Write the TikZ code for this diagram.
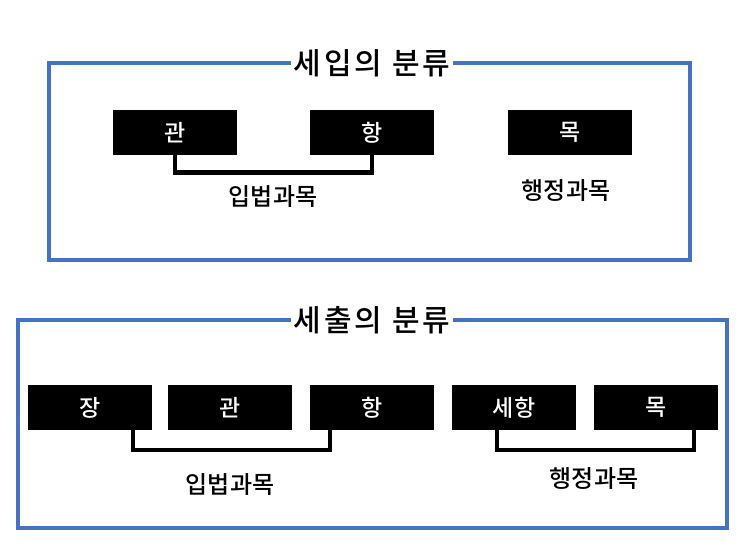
\documentclass[tikz,border=0pt]{standalone}
\usepackage{fontspec}
\newfontfamily\kr[UprightFont=* Medium]{Noto Sans CJK KR}
\newfontfamily\krwide[UprightFont=* Medium,LetterSpace=10]{Noto Sans CJK KR}
\definecolor{frameblue}{RGB}{70,114,196}
\tikzset{
  frame/.style={draw=frameblue, line width=3.5pt},
  titlebox/.style={fill=white, inner xsep=3pt, inner ysep=0pt, font=\krwide\fontsize{30}{32}\selectfont},
  tagbox/.style={fill=black, text=white, minimum width=124pt, minimum height=45pt, inner sep=0pt, font=\kr\fontsize{23}{25}\selectfont},
  brk/.style={draw=black, line width=4.5pt, line join=miter},
  lbl/.style={inner sep=0pt, font=\kr\fontsize{24}{26}\selectfont}
}
\begin{document}
\begin{tikzpicture}[x=1pt,y=-1pt]
\useasboundingbox (0,0) rectangle (743,557);
% top frame
\draw[frame] (49,63) rectangle (690,260);
\node[titlebox] (t1) at (372,63) {세입의 분류};
\node[tagbox] (a1) at (175,132.5) {관};
\node[tagbox] (a2) at (372,132.5) {항};
\node[tagbox] (a3) at (570,132.5) {목};
\draw[brk] (a1.south) -- ++(0,17.5) -| (a2.south);
\node[lbl] (l1) at (273,197) {입법과목};
\node[lbl] (l2) at (566,191) {행정과목};
% bottom frame
\draw[frame] (18,320) rectangle (727,528);
\node[titlebox] (t2) at (372,320) {세출의 분류};
\node[tagbox] (b1) at (90,407.5) {장};
\node[tagbox] (b2) at (230,407.5) {관};
\node[tagbox] (b3) at (372,407.5) {항};
\node[tagbox] (b4) at (514,407.5) {세항};
\node[tagbox] (b5) at (656,407.5) {목};
\draw[brk] ([xshift=-19pt]b1.south east) -- ++(0,20) -| ([xshift=20pt]b3.south west);
\draw[brk] ([xshift=45pt]b4.south west) -- ++(0,20) -| ([xshift=-24pt]b5.south east);
\node[lbl] (l3) at (230,485) {입법과목};
\node[lbl] (l4) at (594,479) {행정과목};
\end{tikzpicture}
\end{document}
